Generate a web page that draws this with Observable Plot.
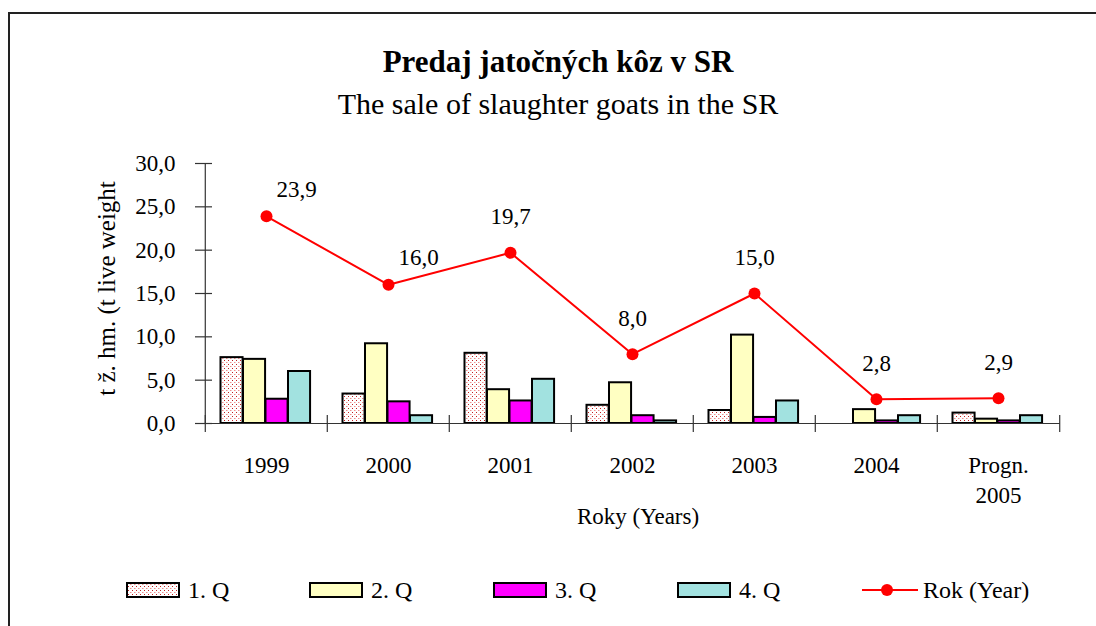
<!DOCTYPE html>
<html>
<head>
<meta charset="utf-8">
<script src="https://cdn.jsdelivr.net/npm/d3@7"></script>
<script src="https://cdn.jsdelivr.net/npm/@observablehq/plot@0.6"></script>
<style>
  html, body { margin: 0; padding: 0; background: #fff; overflow: hidden; }
  #wrap { position: relative; width: 1096px; height: 626px; overflow: hidden; font-family: "Liberation Serif", "DejaVu Serif", serif; color: #000; }
  #frame { position: absolute; left: 8px; top: 12px; width: 2000px; height: 2000px; border-left: 2px solid #222; border-top: 2px solid #222; }
  .title { position: absolute; left: 0; width: 1116px; text-align: center; line-height: 1; white-space: nowrap; }
  #t1 { top: 46px; font-size: 31px; font-weight: bold; }
  #t2 { top: 89px; font-size: 30px; }
  #chart { position: absolute; left: 0; top: 140px; }
  #legend { position: absolute; left: 0; top: 570px; }
</style>
</head>
<body>
<div id="wrap">
  <div id="frame"></div>
  <div class="title" id="t1">Predaj jatočných kôz v SR</div>
  <div class="title" id="t2">The sale of slaughter goats in the SR</div>
  <div id="chart"></div>
  <div id="legend"></div>
</div>
<script>
const categories = ["1999", "2000", "2001", "2002", "2003", "2004", "Progn. 2005"];
const tickLabels = ["1999", "2000", "2001", "2002", "2003", "2004", "Progn.\n2005"];
const q1 = [7.6, 3.4, 8.1, 2.1, 1.5, 0.0, 1.2];
const q2 = [7.4, 9.2, 3.9, 4.7, 10.2, 1.6, 0.5];
const q3 = [2.8, 2.5, 2.6, 0.9, 0.7, 0.3, 0.3];
const q4 = [6.0, 0.9, 5.1, 0.3, 2.6, 0.9, 0.9];
const yearTotal = [23.9, 16.0, 19.7, 8.0, 15.0, 2.8, 2.9];
const yTicks = [0, 5, 10, 15, 20, 25, 30];
const seriesNames = ["1. Q", "2. Q", "3. Q", "4. Q", "Rok (Year)"];
const yLabel = "t ž. hm. (t live weight";
const xLabel = "Roky (Years)";

const colors = { q1: "url(#q1dots)", q2: "#FFFFC2", q3: "#FF00FF", q4: "#A2E2E0", line: "#FF0000" };
const fmt = v => v.toFixed(1).replace(".", ",");

const rows = categories.map((c, i) => ({ cat: c, q1: q1[i], q2: q2[i], q3: q3[i], q4: q4[i], total: yearTotal[i], i }));

const W = 1096, H = 400, mL = 203, mR = 36, mT = 23, mB = 117;
const innerW = W - mL - mR, innerH = H - mT - mB;
const bw = innerW / categories.length;
const barW = 22.5, groupStart = 15.5;
const inset = k => ({ insetLeft: groupStart + k * barW, insetRight: bw - groupStart - (k + 1) * barW });

const barStyle = { stroke: "#000", strokeWidth: 2 };
const FS = 23;

const svg = Plot.plot({
  width: W, height: H,
  marginLeft: mL, marginRight: mR, marginTop: mT, marginBottom: mB,
  style: { fontFamily: "'Liberation Serif', serif", fontSize: FS + "px", color: "#000", background: "transparent", overflow: "visible" },
  x: { type: "band", domain: categories, padding: 0, axis: null },
  y: { domain: [0, 30], axis: null },
  marks: [
    Plot.barY(rows, { x: "cat", y: "q1", fill: colors.q1, ...barStyle, ...inset(0) }),
    Plot.barY(rows, { x: "cat", y: "q2", fill: colors.q2, ...barStyle, ...inset(1) }),
    Plot.barY(rows, { x: "cat", y: "q3", fill: colors.q3, ...barStyle, ...inset(2) }),
    Plot.barY(rows, { x: "cat", y: "q4", fill: colors.q4, ...barStyle, ...inset(3) }),
    Plot.ruleY([0], { stroke: "#333", strokeWidth: 1.2 }),
    Plot.ruleX([categories[0]], { x: d => d, y1: 0, y2: 30, dx: -bw / 2, stroke: "#333", strokeWidth: 1.2 }),
    Plot.tickX(categories, { x: d => d, dx: -bw / 2, insetTop: innerH - 8, insetBottom: -9, stroke: "#333", strokeWidth: 1.2 }),
    Plot.tickX([categories[categories.length - 1]], { x: d => d, dx: bw / 2, insetTop: innerH - 8, insetBottom: -9, stroke: "#333", strokeWidth: 1.2 }),
    Plot.tickY(yTicks, { y: d => d, insetLeft: -8, insetRight: innerW - 9, stroke: "#333", strokeWidth: 1.2 }),
    Plot.axisY(yTicks, { tickSize: 0, tickPadding: 28, tickFormat: fmt, fontSize: FS }),
    Plot.axisX({ tickSize: 0, tickPadding: 28, tickFormat: (d) => tickLabels[categories.indexOf(d)], fontSize: FS, lineAnchor: "top", lineHeight: 1.3, label: null }),
    Plot.text([xLabel], { frameAnchor: "bottom", dy: 100, dx: 6, fontSize: FS }),
    Plot.text([yLabel], { frameAnchor: "left", textAnchor: "middle", rotate: -90, dx: -97, dy: -5, fontSize: 25 }),
    Plot.line(rows, { x: "cat", y: "total", stroke: colors.line, strokeWidth: 2 }),
    Plot.dot(rows, { x: "cat", y: "total", r: 6, fill: colors.line, stroke: "none" }),
    Plot.text(rows.filter(d => d.i < 2), { x: "cat", y: "total", text: d => fmt(d.total), dx: 30, dy: -27, fontSize: FS }),
    Plot.text(rows.filter(d => d.i >= 2), { x: "cat", y: "total", text: d => fmt(d.total), dy: -36, fontSize: FS })
  ]
});

function addPattern(sel, id) {
  const p = sel.append("pattern").attr("id", id).attr("width", 4).attr("height", 4).attr("patternUnits", "userSpaceOnUse");
  p.append("rect").attr("width", 4).attr("height", 4).attr("fill", "#fff");
  p.append("rect").attr("x", 0).attr("y", 0).attr("width", 1).attr("height", 1).attr("fill", "#C02020");
  p.append("rect").attr("x", 2).attr("y", 2).attr("width", 1.5).attr("height", 1).attr("fill", "#F09090");
}
addPattern(d3.select(svg).insert("defs", ":first-child"), "q1dots");
document.getElementById("chart").appendChild(svg);

// Legend
const lg = d3.select("#legend").append("svg").attr("width", 1096).attr("height", 50)
  .style("font-family", "'Liberation Serif', serif").style("font-size", "24px");
addPattern(lg.append("defs"), "q1dotsL");
const legendFill = ["url(#q1dotsL)", colors.q2, colors.q3, colors.q4];
const swX = [127, 310, 494, 678];
const cy = 20;
seriesNames.slice(0, 4).forEach((name, k) => {
  lg.append("rect").attr("x", swX[k]).attr("y", cy - 7).attr("width", 52).attr("height", 14)
    .attr("fill", legendFill[k]).attr("stroke", "#000").attr("stroke-width", 2);
  lg.append("text").attr("x", swX[k] + 61).attr("y", cy + 8).text(name);
});
lg.append("line").attr("x1", 862).attr("x2", 918).attr("y1", cy).attr("y2", cy).attr("stroke", colors.line).attr("stroke-width", 2);
lg.append("circle").attr("cx", 887).attr("cy", cy).attr("r", 6).attr("fill", colors.line);
lg.append("text").attr("x", 923).attr("y", cy + 8).text(seriesNames[4]);
</script>
</body>
</html>
